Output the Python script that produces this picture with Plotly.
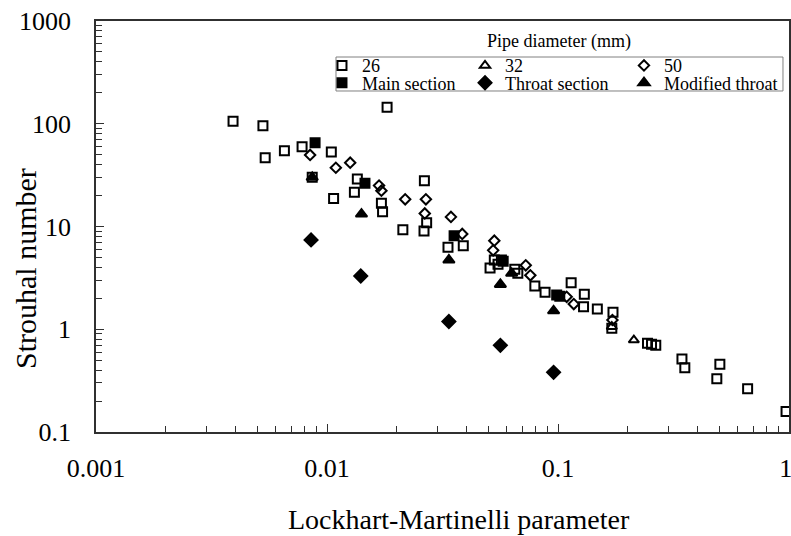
import plotly.graph_objects as go

# Pipe diameter 26 mm (open squares)
x_26 = [0.00392, 0.00528, 0.0054, 0.00654, 0.0078, 0.01044, 0.00863, 0.01068,
        0.01353, 0.01314, 0.0172, 0.0174, 0.0182, 0.0213, 0.0264, 0.027, 0.0263,
        0.0389, 0.0334, 0.053, 0.0508, 0.0569, 0.055, 0.065, 0.067, 0.0794,
        0.0879, 0.114, 0.130, 0.129, 0.148, 0.173, 0.171, 0.244, 0.254, 0.265,
        0.344, 0.354, 0.502, 0.487, 0.662, 0.971]
y_26 = [106, 95.7, 46.8, 54.7, 59.8, 53.1, 30.1, 18.7,
        29.0, 21.5, 16.8, 13.9, 145, 9.31, 27.9, 10.9, 9.04,
        6.5, 6.27, 4.72, 3.94, 4.72, 4.3, 3.83, 3.5, 2.64,
        2.29, 2.84, 2.19, 1.66, 1.57, 1.46, 1.02, 0.729, 0.713, 0.697,
        0.513, 0.423, 0.456, 0.330, 0.264, 0.158]

# Pipe diameter 32 mm (open triangles)
x_32 = [0.171, 0.213]
y_32 = [1.06, 0.785]

# Pipe diameter 50 mm (open diamonds)
x_50 = [0.00845, 0.01092, 0.0126, 0.0168, 0.0172, 0.0218, 0.0268, 0.0265,
        0.0344, 0.0385, 0.053, 0.0524, 0.0725, 0.0759, 0.109, 0.117, 0.172]
y_50 = [49.7, 37.3, 41.8, 25.0, 22.3, 18.4, 18.4, 13.4,
        12.4, 8.46, 7.28, 5.86, 4.19, 3.35, 2.07, 1.76, 1.23]

# Main section (filled squares)
x_main = [0.00888, 0.0146, 0.0355, 0.0579, 0.0987, 0.1018]
y_main = [65.5, 26.3, 8.13, 4.6, 2.15, 2.10]

# Throat section (filled diamonds)
x_throat = [0.00853, 0.0140, 0.0337, 0.0563, 0.0957]
y_throat = [7.40, 3.30, 1.19, 0.698, 0.381]

# Modified throat (filled triangles)
x_mod = [0.00863, 0.0141, 0.0337, 0.0563, 0.063, 0.0957]
y_mod = [30.1, 13.2, 4.72, 2.73, 3.5, 1.51]

x_ticks = [0.001, 0.01, 0.1, 1]
x_ticktext = ["0.001", "0.01", "0.1", "1\u00a0"]  # nbsp keeps the last label inside
y_ticks = [0.1, 1, 10, 100, 1000]
y_ticktext = ["0.1", "1", "10", "100", "1000"]

FONT = "Liberation Serif"

series = [
    ("26", x_26, y_26, "square-open", 9, "legend"),
    ("32", x_32, y_32, "triangle-up-open", 9, "legend2"),
    ("50", x_50, y_50, "diamond-open", 8, "legend3"),
    ("Main section", x_main, y_main, "square", 9, "legend4"),
    ("Throat section", x_throat, y_throat, "diamond", 10, "legend5"),
    ("Modified throat", x_mod, y_mod, "triangle-up", 10, "legend6"),
]

fig = go.Figure()
for name, xs, ys, sym, size, leg in series:
    fig.add_trace(go.Scatter(
        x=xs, y=ys, mode="markers", name=name, legend=leg, showlegend=True,
        cliponaxis=False,
        marker=dict(symbol=sym, size=size, color="black",
                    line=dict(color="black", width=2)),
    ))


def minor_vals(decades):
    return [k * d for d in decades[:-1] for k in range(2, 10)]


axis_common = dict(
    type="log", showline=True, mirror=True, linecolor="#303030", linewidth=1.5,
    ticks="inside", ticklen=8, tickwidth=1, tickcolor="#303030",
    showgrid=False, zeroline=False, tickmode="array", ticklabeloverflow="allow",
    automargin=False,
    tickfont=dict(family=FONT, size=26, color="black"),
)

fig.update_xaxes(
    **axis_common, range=[-3, 0], tickvals=x_ticks, ticktext=x_ticktext,
    ticklabelstandoff=12,
    minor=dict(ticks="inside", ticklen=6, tickcolor="#303030",
               tickmode="array", tickvals=minor_vals(x_ticks)),
)
fig.update_yaxes(
    **axis_common, range=[-1, 3], tickvals=y_ticks, ticktext=y_ticktext,
    ticklabelstandoff=18,
    minor=dict(ticks="inside", ticklen=6, tickcolor="#303030",
               tickmode="array", tickvals=minor_vals(y_ticks)),
)

# legend entries laid out in a 3 x 2 grid
leg_x = [0.3261, 0.5325, 0.7619]
leg_y = [0.8912, 0.8491]
legends = {}
for i, leg in enumerate(["legend", "legend2", "legend3", "legend4", "legend5", "legend6"]):
    legends[leg] = dict(
        x=leg_x[i % 3], y=leg_y[i // 3], xanchor="left", yanchor="middle",
        bgcolor="rgba(0,0,0,0)", borderwidth=0,
        font=dict(family=FONT, size=18, color="black"),
    )

fig.update_layout(
    width=791, height=536,
    margin=dict(l=96, r=2, t=21, b=104, autoexpand=False),
    showlegend=True,
    paper_bgcolor="white", plot_bgcolor="white",
    font=dict(family=FONT, color="black"),
    **legends,
    shapes=[dict(type="rect", xref="paper", yref="paper",
                 x0=0.3463, x1=0.9913, y0=0.8297, y1=0.9124,
                 line=dict(color="#808080", width=1))],
    annotations=[
        dict(text="Pipe diameter (mm)", xref="paper", yref="paper",
             x=0.668, y=0.951, showarrow=False, xanchor="center", yanchor="middle",
             font=dict(family=FONT, size=18, color="black")),
        dict(text="Lockhart-Martinelli parameter", xref="paper", yref="paper",
             x=0.524, y=-0.2117, showarrow=False, xanchor="center", yanchor="middle",
             font=dict(family=FONT, size=28, color="black")),
        dict(text="Strouhal number", xref="paper", yref="paper",
             x=-0.1025, y=0.399, showarrow=False, xanchor="center", yanchor="middle",
             textangle=-90, font=dict(family=FONT, size=30, color="black")),
    ],
)

# drop the default page margin so the figure sits at the window corner
fig.write_html(
    "out.html",
    config={"displayModeBar": False},
    post_script="document.body.style.margin='0';document.body.style.overflow='hidden';",
)
